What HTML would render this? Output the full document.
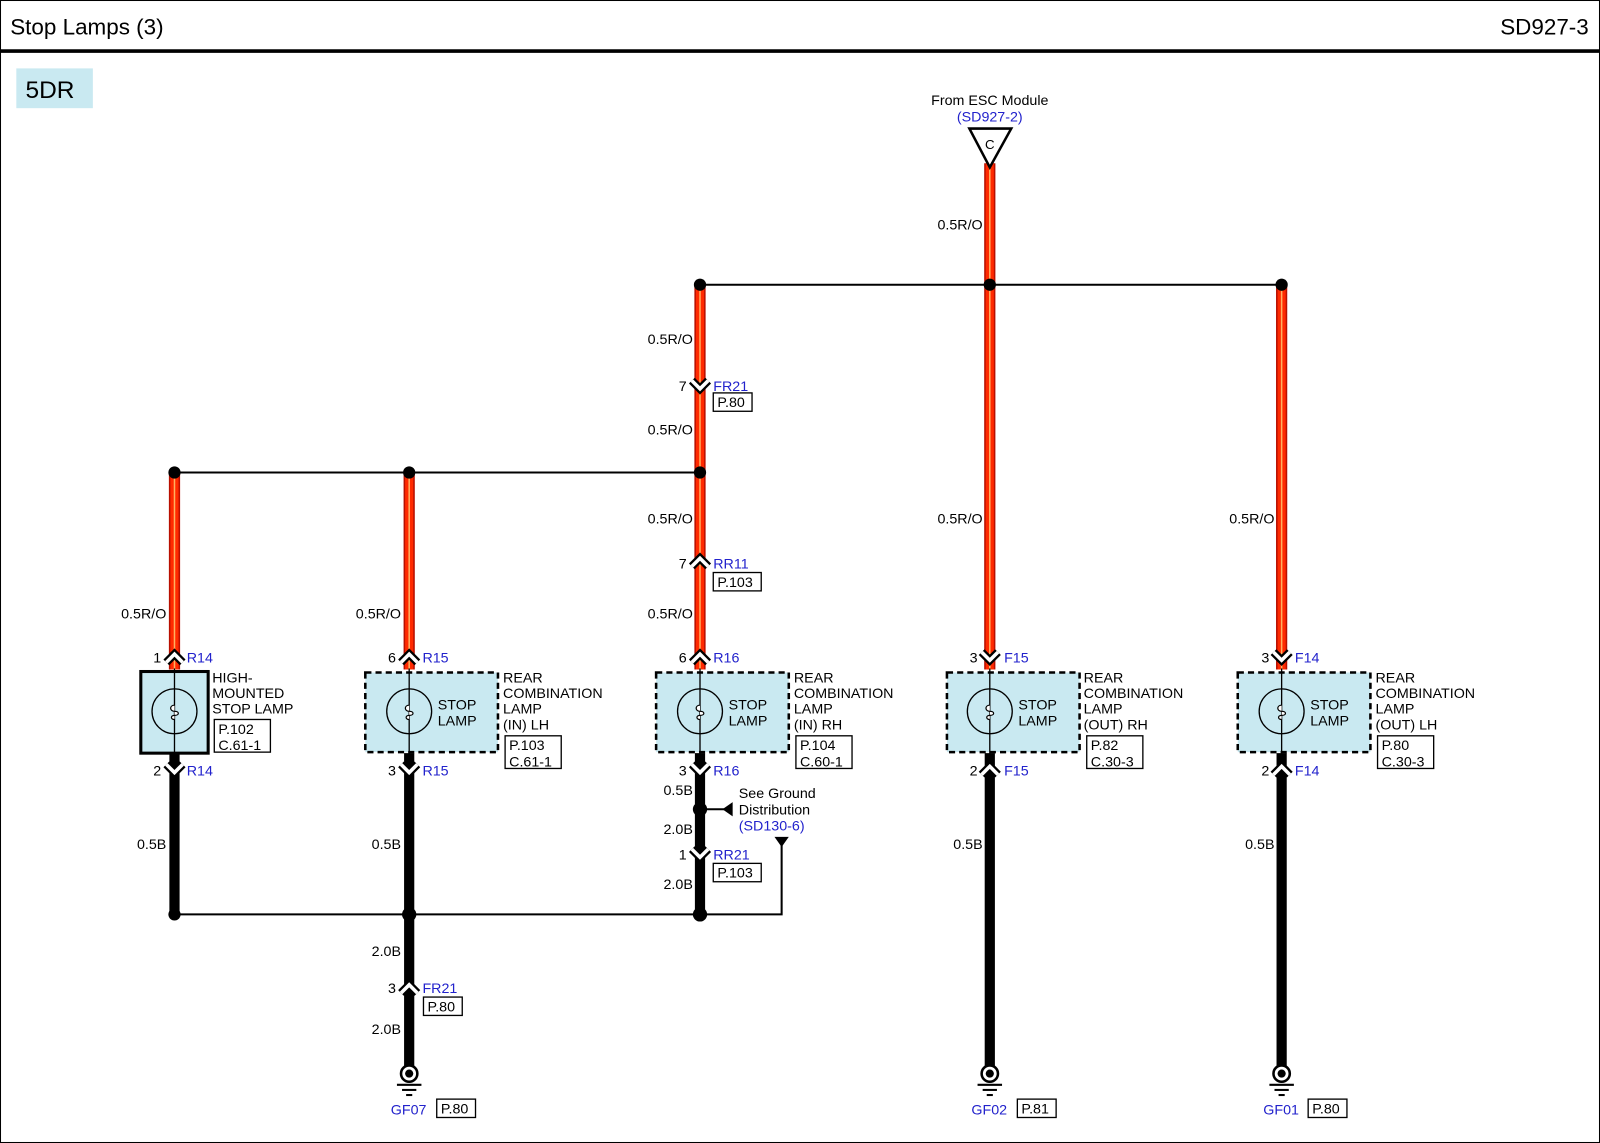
<!DOCTYPE html>
<html><head><meta charset="utf-8"><style>
html,body{margin:0;padding:0;background:#fff;}
svg{display:block;}
text{font-family:"Liberation Sans",Arial,sans-serif;font-size:14px;fill:#000;}
.b{fill:#2222cc;}
</style></head><body>
<svg width="1600" height="1143" viewBox="0 0 1568 1120" preserveAspectRatio="none" xmlns="http://www.w3.org/2000/svg">
<defs>
<g id="up"><polyline points="-8,6 0,-2 8,6" fill="none" stroke="#000" stroke-width="8"/><polyline points="-8,6 0,-2 8,6" fill="none" stroke="#fff" stroke-width="3.5"/></g>
<g id="dn"><polyline points="-8,-6 0,2 8,-6" fill="none" stroke="#000" stroke-width="8"/><polyline points="-8,-6 0,2 8,-6" fill="none" stroke="#fff" stroke-width="3.5"/></g>
<g id="red"><rect x="-5" y="0" width="10" height="1" fill="#e01a00"/></g>
<g id="gnd"><circle cx="0" cy="0" r="8" fill="#fff" stroke="#000" stroke-width="2.5"/><circle cx="0" cy="0" r="4" fill="#000"/><line x1="-12" y1="11" x2="12" y2="11" stroke="#000" stroke-width="2"/><line x1="-7" y1="16" x2="7" y2="16" stroke="#000" stroke-width="2"/><line x1="-3" y1="21" x2="3" y2="21" stroke="#000" stroke-width="2"/></g>
<g id="lamp"><circle cx="0" cy="0" r="22" fill="none" stroke="#000" stroke-width="1.3"/><line x1="0" y1="-42" x2="0" y2="42" stroke="#000" stroke-width="1.3"/><path d="M0,-6 C-5,-6 -5,0 0,0 C5,0 5,4 0,4 C-4,4 -4,8 0,8" fill="#fff" stroke="#000" stroke-width="1.2"/></g>
</defs>
<!-- frame -->
<rect x="0.5" y="0.5" width="1567" height="1119" fill="none" stroke="#000" stroke-width="1"/>
<text x="10" y="34" style="font-size:22px">Stop Lamps (3)</text>
<text x="1557" y="34" text-anchor="end" style="font-size:22px">SD927-3</text>
<line x1="0" y1="50" x2="1568" y2="50" stroke="#000" stroke-width="3.5"/>
<rect x="16" y="67" width="75" height="39" fill="#c9e9f1"/>
<text x="25" y="96" style="font-size:24px">5DR</text>

<!-- buses -->
<line x1="686" y1="279" x2="1256" y2="279" stroke="#000" stroke-width="2"/>
<line x1="171" y1="463" x2="686" y2="463" stroke="#000" stroke-width="2"/>
<polyline points="171,896 766,896 766,822" fill="none" stroke="#000" stroke-width="2"/>
<polygon points="759,820 773,820 766,830" fill="#000"/>

<!-- red wires -->
<g stroke-linecap="butt">
<line x1="970" y1="160" x2="970" y2="656" stroke="#b81000" stroke-width="11"/>
<line x1="970" y1="160" x2="970" y2="656" stroke="#ff2a00" stroke-width="8"/>
<line x1="970" y1="160" x2="970" y2="656" stroke="#ffb060" stroke-width="1.5"/>
<line x1="1256" y1="279" x2="1256" y2="656" stroke="#b81000" stroke-width="11"/>
<line x1="1256" y1="279" x2="1256" y2="656" stroke="#ff2a00" stroke-width="8"/>
<line x1="1256" y1="279" x2="1256" y2="656" stroke="#ffb060" stroke-width="1.5"/>
<line x1="686" y1="279" x2="686" y2="656" stroke="#b81000" stroke-width="11"/>
<line x1="686" y1="279" x2="686" y2="656" stroke="#ff2a00" stroke-width="8"/>
<line x1="686" y1="279" x2="686" y2="656" stroke="#ffb060" stroke-width="1.5"/>
<line x1="401" y1="463" x2="401" y2="656" stroke="#b81000" stroke-width="11"/>
<line x1="401" y1="463" x2="401" y2="656" stroke="#ff2a00" stroke-width="8"/>
<line x1="401" y1="463" x2="401" y2="656" stroke="#ffb060" stroke-width="1.5"/>
<line x1="171" y1="463" x2="171" y2="656" stroke="#b81000" stroke-width="11"/>
<line x1="171" y1="463" x2="171" y2="656" stroke="#ff2a00" stroke-width="8"/>
<line x1="171" y1="463" x2="171" y2="656" stroke="#ffb060" stroke-width="1.5"/>
</g>
<!-- black wires -->
<g stroke="#000" stroke-width="10">
<line x1="171" y1="738" x2="171" y2="896"/>
<line x1="401" y1="738" x2="401" y2="1046"/>
<line x1="686" y1="738" x2="686" y2="896"/>
<line x1="970" y1="738" x2="970" y2="1046"/>
<line x1="1256" y1="738" x2="1256" y2="1046"/>
</g>
<line x1="686" y1="793" x2="712" y2="793" stroke="#000" stroke-width="2"/>
<polygon points="708,793 718,786 718,800" fill="#000"/>

<!-- dots -->
<g fill="#000">
<circle cx="686" cy="279" r="6"/><circle cx="970" cy="279" r="6"/><circle cx="1256" cy="279" r="6"/>
<circle cx="171" cy="463" r="6"/><circle cx="401" cy="463" r="6"/><circle cx="686" cy="463" r="6"/>
<circle cx="171" cy="896" r="6"/><circle cx="401" cy="896" r="7"/><circle cx="686" cy="896" r="7"/>
<circle cx="686" cy="793" r="7"/>
</g>
<g fill="#fff"><circle cx="686" cy="279" r="0"/></g>

<!-- ESC connector -->
<text x="970" y="103" text-anchor="middle">From ESC Module</text>
<text x="970" y="119" text-anchor="middle" class="b">(SD927-2)</text>
<polygon points="950,126 991,126 970,164" fill="#fff" stroke="#000" stroke-width="2.5"/>
<text x="970" y="146" text-anchor="middle" style="font-size:13px">C</text>

<!-- lamps -->
<rect x="138" y="658" width="66" height="80" fill="#c9e9f1" stroke="#000" stroke-width="3"/>
<g fill="#c9e9f1" stroke="#000" stroke-width="2.5" stroke-dasharray="6,4">
<rect x="358" y="659" width="130" height="78"/>
<rect x="643" y="659" width="130" height="78"/>
<rect x="928" y="659" width="130" height="78"/>
<rect x="1213" y="659" width="130" height="78"/>
</g>
<use href="#lamp" x="171" y="697"/>
<use href="#lamp" x="401" y="697"/>
<use href="#lamp" x="686" y="697"/>
<use href="#lamp" x="970" y="697"/>
<use href="#lamp" x="1256" y="697"/>
<g>
<text x="429" y="695">STOP</text><text x="429" y="711">LAMP</text>
<text x="714" y="695">STOP</text><text x="714" y="711">LAMP</text>
<text x="998" y="695">STOP</text><text x="998" y="711">LAMP</text>
<text x="1284" y="695">STOP</text><text x="1284" y="711">LAMP</text>
</g>
<text x="208" y="669">HIGH-</text><text x="208" y="684">MOUNTED</text><text x="208" y="699">STOP LAMP</text>
<text x="493" y="669">REAR</text><text x="493" y="684">COMBINATION</text><text x="493" y="699">LAMP</text><text x="493" y="715">(IN) LH</text>
<text x="778" y="669">REAR</text><text x="778" y="684">COMBINATION</text><text x="778" y="699">LAMP</text><text x="778" y="715">(IN) RH</text>
<text x="1062" y="669">REAR</text><text x="1062" y="684">COMBINATION</text><text x="1062" y="699">LAMP</text><text x="1062" y="715">(OUT) RH</text>
<text x="1348" y="669">REAR</text><text x="1348" y="684">COMBINATION</text><text x="1348" y="699">LAMP</text><text x="1348" y="715">(OUT) LH</text>
<!-- ref boxes -->
<g fill="#fff" stroke="#000" stroke-width="1.3">
<rect x="210" y="705" width="55" height="32"/>
<rect x="495" y="721" width="55" height="32"/>
<rect x="780" y="721" width="55" height="32"/>
<rect x="1065" y="721" width="55" height="32"/>
<rect x="1350" y="721" width="55" height="32"/>
<rect x="699" y="385" width="38" height="18"/>
<rect x="699" y="561" width="47" height="18"/>
<rect x="699" y="846" width="47" height="18"/>
<rect x="415" y="977" width="38" height="18"/>
<rect x="428" y="1077" width="38" height="18"/>
<rect x="997" y="1077" width="38" height="18"/>
<rect x="1282" y="1077" width="38" height="18"/>
</g>
<text x="214" y="719">P.102</text><text x="214" y="735">C.61-1</text>
<text x="499" y="735">P.103</text><text x="499" y="751">C.61-1</text>
<text x="784" y="735">P.104</text><text x="784" y="751">C.60-1</text>
<text x="1069" y="735">P.82</text><text x="1069" y="751">C.30-3</text>
<text x="1354" y="735">P.80</text><text x="1354" y="751">C.30-3</text>

<!-- connectors -->
<use href="#up" x="171" y="643"/><use href="#up" x="401" y="643"/><use href="#up" x="686" y="643"/>
<use href="#dn" x="970" y="645"/><use href="#dn" x="1256" y="645"/>
<use href="#dn" x="171" y="755"/><use href="#dn" x="401" y="755"/><use href="#dn" x="686" y="755"/>
<use href="#up" x="970" y="753"/><use href="#up" x="1256" y="753"/>
<use href="#dn" x="686" y="379"/><use href="#up" x="686" y="549"/>
<use href="#dn" x="686" y="838"/><use href="#up" x="401" y="967"/>

<text x="158" y="649" text-anchor="end">1</text><text x="183" y="649" class="b">R14</text>
<text x="388" y="649" text-anchor="end">6</text><text x="414" y="649" class="b">R15</text>
<text x="673" y="649" text-anchor="end">6</text><text x="699" y="649" class="b">R16</text>
<text x="958" y="649" text-anchor="end">3</text><text x="984" y="649" class="b">F15</text>
<text x="1244" y="649" text-anchor="end">3</text><text x="1269" y="649" class="b">F14</text>
<text x="158" y="760" text-anchor="end">2</text><text x="183" y="760" class="b">R14</text>
<text x="388" y="760" text-anchor="end">3</text><text x="414" y="760" class="b">R15</text>
<text x="673" y="760" text-anchor="end">3</text><text x="699" y="760" class="b">R16</text>
<text x="958" y="760" text-anchor="end">2</text><text x="984" y="760" class="b">F15</text>
<text x="1244" y="760" text-anchor="end">2</text><text x="1269" y="760" class="b">F14</text>
<text x="673" y="383" text-anchor="end">7</text><text x="699" y="383" class="b">FR21</text><text x="703" y="399">P.80</text>
<text x="673" y="557" text-anchor="end">7</text><text x="699" y="557" class="b">RR11</text><text x="703" y="575">P.103</text>
<text x="673" y="842" text-anchor="end">1</text><text x="699" y="842" class="b">RR21</text><text x="703" y="860">P.103</text>
<text x="388" y="973" text-anchor="end">3</text><text x="414" y="973" class="b">FR21</text><text x="419" y="991">P.80</text>

<!-- wire labels -->
<g text-anchor="end">
<text x="963" y="225">0.5R/O</text>
<text x="679" y="337">0.5R/O</text>
<text x="679" y="426">0.5R/O</text>
<text x="679" y="513">0.5R/O</text>
<text x="679" y="606">0.5R/O</text>
<text x="963" y="513">0.5R/O</text>
<text x="1249" y="513">0.5R/O</text>
<text x="163" y="606">0.5R/O</text>
<text x="393" y="606">0.5R/O</text>
<text x="163" y="832">0.5B</text>
<text x="393" y="832">0.5B</text>
<text x="963" y="832">0.5B</text>
<text x="1249" y="832">0.5B</text>
<text x="679" y="779">0.5B</text>
<text x="679" y="817">2.0B</text>
<text x="679" y="871">2.0B</text>
<text x="393" y="937">2.0B</text>
<text x="393" y="1013">2.0B</text>
</g>
<text x="724" y="782">See Ground</text>
<text x="724" y="798">Distribution</text>
<text x="724" y="814" class="b">(SD130-6)</text>

<!-- grounds -->
<use href="#gnd" x="401" y="1052"/>
<use href="#gnd" x="970" y="1052"/>
<use href="#gnd" x="1256" y="1052"/>
<text x="383" y="1092" class="b">GF07</text><text x="432" y="1091">P.80</text>
<text x="952" y="1092" class="b">GF02</text><text x="1001" y="1091">P.81</text>
<text x="1238" y="1092" class="b">GF01</text><text x="1286" y="1091">P.80</text>
</svg>
</body></html>
